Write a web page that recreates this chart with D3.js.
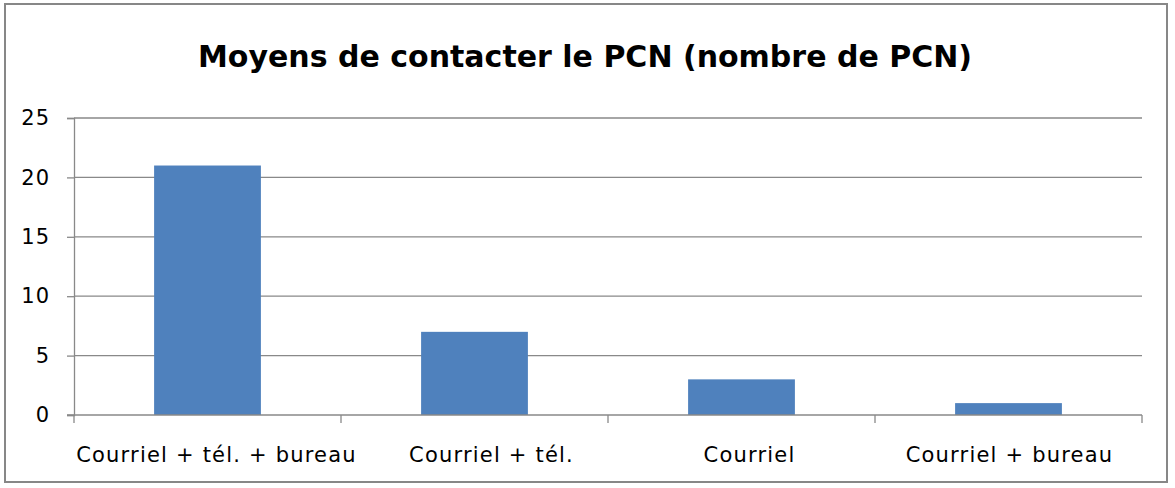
<!DOCTYPE html>
<html>
<head>
<meta charset="utf-8">
<script src="https://cdn.jsdelivr.net/npm/d3@7"></script>
<style>
  body { margin: 0; background: #fff; }
  text { font-family: "DejaVu Sans", Verdana, sans-serif; }
</style>
</head>
<body>
<script>
// Chart data
const categories = ["Courriel + tél. + bureau", "Courriel + tél.", "Courriel", "Courriel + bureau"];
const counts = [21, 7, 3, 1];
const yTicks = [0, 5, 10, 15, 20, 25];
const title = "Moyens de contacter le PCN (nombre de PCN)";

const width = 1175, height = 488;
const margin = { top: 118, right: 33, bottom: 73, left: 74 };

const svg = d3.select("body")
    .append("svg")
    .attr("width", width)
    .attr("height", height);

// Outer frame
svg.append("rect")
    .attr("x", 5)
    .attr("y", 4)
    .attr("width", 1162)
    .attr("height", 478)
    .attr("fill", "#fff")
    .attr("stroke", "#878787")
    .attr("stroke-width", 2);

// Title
svg.append("text")
    .attr("x", 585)
    .attr("y", 67)
    .attr("text-anchor", "middle")
    .attr("font-size", 30)
    .attr("font-weight", "bold")
    .attr("fill", "#000")
    .text(title);

// Scales
const x = d3.scaleBand()
    .domain(categories)
    .range([margin.left, width - margin.right])
    .padding(0);

const y = d3.scaleLinear()
    .domain([0, 25])
    .range([height - margin.bottom, margin.top]);

// Gridlines
svg.append("g")
    .selectAll("line")
    .data(yTicks.filter(d => d > 0))
    .enter()
    .append("line")
    .attr("x1", margin.left)
    .attr("x2", width - margin.right)
    .attr("y1", d => y(d))
    .attr("y2", d => y(d))
    .attr("stroke", "#898989")
    .attr("stroke-width", 1.3);

// Bars (40% of the category width, centred)
const barW = x.bandwidth() * 0.4;
svg.selectAll("rect.bar")
    .data(categories.map((c, i) => ({ category: c, value: counts[i] })))
    .enter()
    .append("rect")
    .attr("class", "bar")
    .attr("x", d => x(d.category) + (x.bandwidth() - barW) / 2)
    .attr("y", d => y(d.value))
    .attr("width", barW)
    .attr("height", d => y(0) - y(d.value))
    .attr("fill", "#4f81bd");

// Y axis
const yAxis = svg.append("g")
    .attr("transform", `translate(${margin.left},0)`)
    .call(d3.axisLeft(y).tickValues(yTicks).tickSize(7).tickPadding(17));
yAxis.select(".domain").attr("stroke", "#898989").attr("stroke-width", 1.3);
yAxis.selectAll(".tick line").attr("stroke", "#898989").attr("stroke-width", 1.3);
yAxis.selectAll("text")
    .attr("font-size", 21)
    .attr("font-family", "DejaVu Sans, Verdana, sans-serif")
    .attr("letter-spacing", 1)
    .attr("fill", "#000");

// X axis: tick marks at category boundaries
const xAxis = svg.append("g")
    .attr("transform", `translate(0,${y(0)})`);
xAxis.append("line")
    .attr("x1", margin.left - 7)
    .attr("x2", width - margin.right)
    .attr("stroke", "#898989")
    .attr("stroke-width", 1.3);
const edges = categories.map(c => x(c)).concat([x(categories[categories.length - 1]) + x.bandwidth()]);
xAxis.selectAll("line.edge")
    .data(edges)
    .enter()
    .append("line")
    .attr("class", "edge")
    .attr("x1", d => d)
    .attr("x2", d => d)
    .attr("y1", 0)
    .attr("y2", 8)
    .attr("stroke", "#898989")
    .attr("stroke-width", 1.3);

// labels sit a little right of the band centre in the original
const labelShift = [9, 17, 8, 1];
xAxis.selectAll("text")
    .data(categories)
    .enter()
    .append("text")
    .attr("x", (d, i) => x(d) + x.bandwidth() / 2 + labelShift[i])
    .attr("y", 47)
    .attr("text-anchor", "middle")
    .attr("font-size", 21)
    .attr("letter-spacing", 1.2)
    .attr("fill", "#000")
    .text(d => d);
</script>
</body>
</html>
